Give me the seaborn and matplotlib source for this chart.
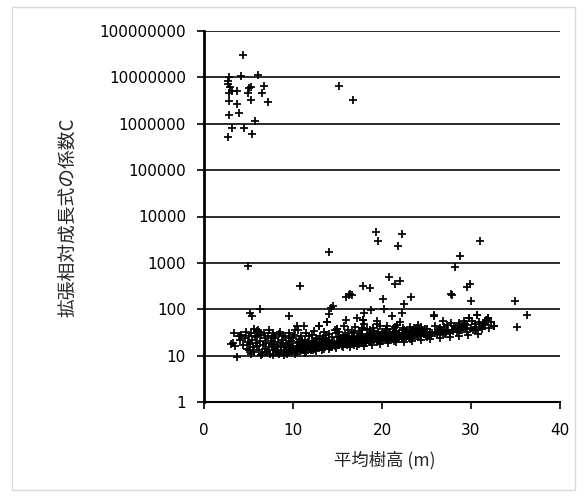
import numpy as np
import pandas as pd
import matplotlib
matplotlib.use("Agg")
import matplotlib.pyplot as plt
import seaborn as sns
from matplotlib.ticker import FixedLocator, FuncFormatter, NullLocator
from matplotlib.patches import Rectangle

# 上の群 (C > 1e5)
top_x = [4.4, 4.2, 6.1, 2.8, 2.7, 2.7, 2.9, 5.3, 5.0, 6.7, 3.1, 3.7, 4.9, 6.5,
         2.8, 2.8, 3.7, 5.3, 7.2, 2.8, 3.9, 5.7, 3.2, 4.5, 5.4, 2.7, 15.2, 16.7]
top_y = [3.0e7, 1.07e7, 1.12e7, 1.0e7, 8.5e6, 7.2e6, 6.3e6, 6.2e6, 5.8e6, 6.6e6,
         5.1e6, 5.1e6, 4.6e6, 4.6e6, 4.6e6, 3.1e6, 2.7e6, 3.2e6, 2.9e6, 1.55e6,
         1.7e6, 1.12e6, 8.3e5, 8.3e5, 6.0e5, 5.1e5, 6.5e6, 3.2e6]

# 外れ値 (35 < C < 5000)
mid_x = [4.9, 10.8, 14.0, 19.3, 19.5, 22.3, 21.8, 31.0, 28.8, 28.2, 20.8, 21.5,
         22.0, 29.9, 29.6, 17.9, 18.6, 16.4, 27.8, 27.9, 30.0, 34.9, 20.1, 23.3,
         22.5, 20.2, 22.3, 36.3, 35.2, 16.0, 16.6, 16.3, 18.8, 5.2, 5.4, 6.3,
         9.5, 14.5, 14.3, 14.0, 13.8, 12.9, 10.4, 11.2, 10.6, 18.0, 17.9, 17.2,
         19.4, 14.9, 15.7, 21.1, 25.8, 30.7, 29.8, 31.9, 32.6, 31.6]
mid_y = [870, 320, 1750, 4600, 2900, 4200, 2350, 3000, 1420, 810, 500, 345,
         410, 350, 300, 310, 285, 215, 215, 205, 150, 150, 165, 185,
         132, 100, 83, 76, 41, 186, 205, 200, 98, 83, 70, 102,
         70, 117, 108, 79, 52, 44, 44, 44, 36, 83, 59, 64,
         55, 38, 44, 70, 76, 76, 64, 64, 44, 48]

# 密集帯 (C = 10-60)
band_x = [3.0, 3.3, 3.5, 3.7, 3.9, 4.0, 4.2, 4.4, 4.6, 4.8, 4.9, 5.0,
          5.1, 5.2, 5.3, 5.4, 5.5, 5.6, 5.7, 5.8, 5.9, 6.0, 6.1, 6.2, 6.3, 6.4, 6.5, 6.6, 6.8, 6.9,
          7.0, 7.1, 7.2, 7.3, 7.4, 7.5, 7.6, 7.7, 7.8, 7.9, 8.0, 8.1, 8.2, 8.3, 8.4, 8.5, 8.6, 8.7, 8.8, 8.9,
          9.0, 9.1, 9.2, 9.3, 9.4, 9.5, 9.6, 9.7, 9.8, 9.9, 10.0, 10.1, 10.2, 10.3, 10.4, 10.5, 10.6, 10.7,
          10.8, 10.9, 9.3, 9.8, 10.4, 10.7,
          11.0, 11.1, 11.2, 11.3, 11.4, 11.5, 11.6, 11.7, 11.8, 11.9, 12.0, 12.1, 12.2, 12.3, 12.4, 12.5,
          12.6, 12.7, 12.8, 12.9, 11.2, 11.7, 12.2, 12.6, 12.0, 12.9,
          13.0, 13.1, 13.2, 13.3, 13.4, 13.5, 13.6, 13.7, 13.8, 13.9, 14.0, 14.1, 14.2, 14.3, 14.4, 14.5,
          14.6, 14.7, 14.8, 14.9, 13.3, 13.8, 14.2, 14.6, 14.9, 13.6, 14.4, 15.0,
          15.1, 15.2, 15.3, 15.4, 15.5, 15.6, 15.7, 15.8, 15.9, 16.0, 16.1, 16.2, 16.3, 16.4, 16.5, 16.6,
          16.7, 16.8, 16.9, 15.3, 15.7, 16.1, 16.5, 16.8, 15.5, 16.3, 16.9, 15.9, 16.6, 17.0,
          17.1, 17.2, 17.3, 17.4, 17.5, 17.6, 17.7, 17.8, 17.9, 18.0, 18.1, 18.2, 18.3, 18.4, 18.5, 18.6,
          18.7, 18.8, 18.9, 17.3, 17.7, 18.1, 18.5, 18.8, 17.5, 18.3, 17.0, 18.0, 19.0, 18.6,
          19.1, 19.2, 19.3, 19.4, 19.5, 19.6, 19.7, 19.8, 19.9, 20.0, 20.1, 20.2, 20.3, 20.4, 20.5, 20.6,
          20.7, 20.8, 20.9, 19.3, 19.7, 20.1, 20.5, 20.8, 19.5, 20.3, 21.0, 19.9, 20.6, 19.0,
          21.1, 21.2, 21.3, 21.4, 21.5, 21.6, 21.7, 21.8, 21.9, 22.0, 22.1, 22.2, 22.3, 22.4, 22.5, 22.6,
          22.7, 22.8, 22.9, 21.3, 21.8, 22.2, 22.6, 22.9, 21.5, 22.4, 21.9, 23.0,
          23.1, 23.2, 23.3, 23.4, 23.5, 23.6, 23.7, 23.8, 23.9, 24.0, 24.1, 24.2, 24.3, 24.4, 24.5, 24.6,
          24.7, 24.8, 24.9, 23.4, 23.9, 24.3, 24.7, 23.6, 25.0,
          25.2, 25.4, 25.6, 25.8, 26.0, 26.2, 26.4, 26.6, 26.8, 27.0, 27.2, 27.4, 27.6, 27.8, 28.0, 28.2,
          28.4, 28.6, 28.8, 25.5, 26.3, 27.1, 27.9, 28.5, 26.9,
          29.0, 29.2, 29.4, 29.6, 29.8, 30.0, 30.2, 30.4, 30.6, 30.7, 31.0, 31.2, 31.5, 31.9, 32.0, 32.3,
          32.6, 29.1, 29.5, 30.5, 31.3, 28.9]
band_y = [18, 19, 16, 9.5, 26, 22, 28, 17, 24, 14, 20, 27,
          13, 18, 30, 22, 15, 12, 25, 19, 34, 16, 36, 13, 21, 28, 11, 17, 24, 14,
          19, 12, 26, 15, 11, 21, 17, 13, 30, 18, 24, 12, 15, 20, 11, 33, 16, 13, 22, 18,
          12, 15, 19, 11, 14, 24, 17, 13, 21, 12, 16, 28, 36, 14, 19, 12, 15, 23,
          17, 13, 17, 15, 13, 20,
          14, 18, 13, 22, 16, 12, 19, 15, 26, 14, 17, 21, 13, 16, 19, 14,
          24, 17, 15, 44, 17, 20, 18, 15, 14, 19,
          16, 20, 15, 18, 23, 14, 17, 28, 52, 19, 16, 22, 15, 18, 25, 17,
          20, 16, 30, 19, 15, 21, 19, 17, 37, 24, 15, 18,
          21, 17, 24, 19, 16, 27, 20, 18, 23, 59, 17, 21, 25, 19, 18, 32,
          22, 20, 17, 19, 22, 24, 21, 26, 20, 18, 23, 19, 20, 22,
          19, 25, 21, 18, 29, 22, 20, 36, 59, 23, 21, 19, 27, 24, 22, 20,
          31, 26, 23, 23, 26, 25, 28, 21, 20, 22, 42, 48, 24, 35,
          22, 27, 25, 48, 23, 30, 21, 26, 24, 33, 22, 28, 25, 23, 38, 27,
          24, 22, 30, 29, 27, 26, 24, 28, 26, 31, 25, 21, 44, 40,
          23, 30, 26, 28, 24, 34, 27, 25, 31, 52, 26, 29, 24, 27, 36, 30,
          25, 28, 26, 32, 29, 25, 27, 33, 42, 40, 23, 29,
          27, 31, 25, 29, 35, 28, 26, 33, 30, 27, 45, 31, 28, 26, 34, 30,
          29, 38, 27, 32, 26, 33, 31, 40, 30,
          28, 33, 30, 72, 31, 29, 36, 33, 30, 42, 32, 35, 31, 50, 34, 38,
          33, 45, 36, 27, 32, 29, 36, 40, 55,
          35, 55, 38, 33, 64, 40, 36, 48, 38, 76, 42, 37, 45, 64, 40, 52,
          44, 42, 46, 35, 50, 40]

# 密集帯の上側に散らばる点
upper_x = [3.4, 4.1, 4.7, 5.6, 6.2, 6.7, 7.3, 7.9, 8.4, 9.1, 9.6, 10.0, 10.9, 11.5,
           12.1, 12.4, 13.0, 13.5, 14.1, 14.7, 15.2, 15.8, 16.2, 16.9, 17.4, 17.8,
           18.3, 19.1, 19.8, 20.4, 21.2, 21.7, 22.7, 23.2, 23.8, 24.4, 25.1, 25.9,
           26.5, 27.3, 28.1, 28.7, 29.3, 30.1, 30.9, 31.7, 6.0, 7.6, 8.9, 11.0, 12.7,
           15.0, 16.0, 19.6, 20.9, 24.0, 26.6]
upper_y = [30, 27, 32, 38, 32, 30, 35, 27, 29, 26, 31, 25, 27, 30,
           28, 34, 26, 33, 29, 35, 32, 28, 36, 30, 34, 40,
           38, 34, 44, 36, 38, 46, 34, 42, 38, 41, 37, 44,
           40, 46, 44, 50, 48, 55, 52, 58, 27, 24, 26, 21, 23,
           25, 27, 32, 33, 36, 35]

# 密集帯の下側の点
lower_x = [5.3, 6.4, 7.0, 7.7, 8.3, 9.0, 9.5, 10.2, 10.8, 11.4, 12.0, 12.6, 13.3,
           14.0, 14.8, 15.6, 16.4, 17.2, 18.0, 18.9, 19.8, 20.7, 21.6, 22.5, 23.4,
           24.4, 25.4, 26.5, 27.6, 28.6, 29.7, 30.8, 8.0, 9.9, 11.7, 13.7, 15.9,
           17.7, 19.4, 21.3, 23.2, 25.0]
lower_y = [11, 10.5, 12, 10.5, 11.5, 10.5, 12, 11, 12.5, 11.5, 13, 12.5, 13.5,
           14, 14.5, 15, 15.5, 16, 16.5, 17, 18, 18.5, 19.5, 20, 21,
           22, 23, 24, 25, 26, 27.5, 29, 14, 14, 15, 16, 18,
           19, 20, 21, 23, 25]

ytick_vals = [1, 10, 100, 1000, 10000, 100000, 1000000, 10000000, 100000000]
xtick_vals = [0, 10, 20, 30, 40]

df = pd.DataFrame({
    "h": top_x + mid_x + band_x + upper_x + lower_x,
    "c": top_y + mid_y + band_y + upper_y + lower_y,
})

sns.set_style("ticks")
plt.rcParams['font.family'] = ['DejaVu Sans', 'Noto Sans CJK JP']

fig = plt.figure(figsize=(5.85, 4.97), dpi=100)
ax = fig.add_axes([204 / 585, 1 - 402 / 497, 356 / 585, 371 / 497])

sns.scatterplot(data=df, x="h", y="c", marker="+", color="black",
                s=27, linewidth=1.25, ax=ax, legend=False, zorder=3)

ax.set_yscale("log")
ax.set_ylim(1, 1e8)
ax.set_xlim(0, 40)
ax.yaxis.set_major_locator(FixedLocator(ytick_vals))
ax.yaxis.set_minor_locator(NullLocator())
ax.yaxis.set_major_formatter(FuncFormatter(lambda v, p: f"{int(round(v))}"))
ax.set_xticks(xtick_vals)

ax.set_axisbelow(True)
ax.yaxis.grid(True, color="#1a1a1a", linewidth=1.3)
ax.xaxis.grid(False)
for s in ["top", "right"]:
    ax.spines[s].set_visible(False)
ax.spines["left"].set_linewidth(2.0)
ax.spines["left"].set_color("black")
ax.spines["bottom"].set_linewidth(1.5)
ax.spines["bottom"].set_color("black")
ax.tick_params(axis="y", direction="out", length=5, width=1.2, color="black",
               labelsize=11, pad=8, labelcolor="black")
ax.tick_params(axis="x", direction="out", length=5, width=1.2, color="black",
               labelsize=11, pad=10, labelcolor="black")
ax.set_xlabel("")
ax.set_ylabel("")

fig.text(385 / 585, 1 - 460 / 497, "平均樹高 (m)", ha="center", va="center",
         fontsize=12.5, family=["Noto Sans CJK JP", "DejaVu Sans"])
fig.text(68 / 585, 1 - 217 / 497, "拡張相対成長式の係数C", ha="center", va="center",
         rotation=90, fontsize=13.5, family=["Noto Sans CJK JP", "DejaVu Sans"])

fig.patches.append(Rectangle((12 / 585, 1 - 490 / 497), 563 / 585, 483 / 497,
                             transform=fig.transFigure, fill=False,
                             edgecolor="#d9d9d9", linewidth=1.0))

fig.savefig("out.png", dpi=100)
